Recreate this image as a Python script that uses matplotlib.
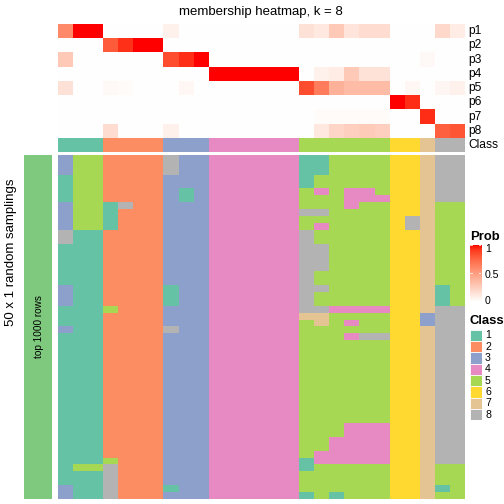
import numpy as np
import matplotlib
matplotlib.use("Agg")
import matplotlib.pyplot as plt
from matplotlib.colors import ListedColormap, LinearSegmentedColormap
from matplotlib.patches import Rectangle

plt.rcParams['font.family'] = ['Liberation Sans', 'DejaVu Sans']

class_ids = [1, 2, 3, 4, 5, 6, 7, 8]
class_colors = ["#66C2A5", "#FC8D62", "#8DA0CB", "#E78AC3",
                "#A6D854", "#FFD92F", "#E5C494", "#B3B3B3"]

# consensus class of each of the 27 columns
column_class = [1, 1, 1, 2, 2, 2, 2, 3, 3, 3, 4, 4, 4, 4, 4, 4,
                5, 5, 5, 5, 5, 5, 6, 6, 7, 8, 8]

# membership probabilities, one list per class
p1 = [0.60, 1, 1, 0, 0, 0, 0, 0.08, 0, 0, 0, 0, 0, 0, 0, 0,
      0.16, 0.12, 0.28, 0.14, 0.18, 0.18, 0, 0, 0, 0.20, 0.10]
p2 = [0, 0, 0, 0.80, 0.93, 1, 1, 0, 0, 0, 0, 0, 0, 0, 0, 0,
      0, 0, 0, 0, 0, 0, 0, 0, 0, 0, 0]
p3 = [0.28, 0, 0, 0, 0, 0, 0, 0.85, 0.94, 1, 0, 0, 0, 0, 0, 0,
      0, 0, 0, 0, 0, 0, 0, 0, 0.03, 0, 0]
p4 = [0, 0, 0, 0, 0, 0, 0, 0, 0, 0, 1, 1, 1, 1, 1, 1,
      0, 0.08, 0.10, 0.28, 0.15, 0.15, 0, 0, 0, 0, 0]
p5 = [0.16, 0, 0, 0.03, 0.02, 0, 0, 0, 0.04, 0, 0, 0, 0, 0, 0, 0,
      0.85, 0.66, 0.40, 0.35, 0.35, 0.35, 0, 0.04, 0, 0.05, 0.08]
p6 = [0, 0, 0, 0, 0, 0, 0, 0, 0, 0, 0, 0, 0, 0, 0, 0,
      0, 0, 0, 0, 0, 0, 1, 0.94, 0, 0, 0]
p7 = [0, 0, 0, 0, 0, 0, 0, 0, 0, 0, 0, 0, 0, 0, 0, 0,
      0, 0.02, 0.02, 0.02, 0.02, 0.02, 0, 0, 0.94, 0, 0]
p8 = [0, 0, 0, 0.18, 0, 0, 0, 0.08, 0, 0, 0, 0, 0, 0, 0, 0,
      0, 0.12, 0.22, 0.25, 0.27, 0.25, 0, 0, 0, 0.78, 0.82]
prob_labels = ["p1", "p2", "p3", "p4", "p5", "p6", "p7", "p8"]

# class found in each of the 50 random samplings (rows) for each column
samplings = [
    "355222283344444411555566788",
    "355222283344444411555566788",
    "355222283344444411555566788",
    "155222233344444415555566788",
    "155222233344444415555566788",
    "155222231344444454544566788",
    "155222231344444455544466788",
    "355182233344444455545566755",
    "355122233344444488555566755",
    "355122233344444455555568755",
    "355122233344444454555568755",
    "811222233344444485555566755",
    "811222233344444485555566755",
    "111222233344444488555566755",
    "111222233344444488555566755",
    "111222233344444488555566755",
    "111222233344444488555566755",
    "111222233344444485555566755",
    "111222233344444485555566755",
    "311222213344444488555566715",
    "311222213344444485555566715",
    "311222213344444485555566715",
    "111522233344444488444466788",
    "111222233344444477555566388",
    "111222233344444457545566388",
    "311222283344444455555566788",
    "111222233344444455548866788",
    "111222233344444455555566788",
    "111222233344444455555566788",
    "111222233344444455555566788",
    "111222233344444455555566788",
    "111222233344444455555566788",
    "111222233344444455555566788",
    "111222233344444455555566788",
    "111222233344444455555566788",
    "111222233344444455555566788",
    "111222233344444455555566788",
    "111222233344444455555566788",
    "111222233344444455555566788",
    "111222233344444455544466788",
    "111222233344444455544466788",
    "111222233344444455444466788",
    "111222233344444455444466788",
    "111222233344444454444466788",
    "111522233344444414444466788",
    "155822233344444415555566755",
    "111822233344444455555566755",
    "111822233344444455555566755",
    "311822213344444455555566715",
    "311822233344444415155566755",
]


def white_red_lab(n=128):
    # white -> red ramp interpolated in CIE Lab
    t = np.linspace(0, 1, n)
    L = 100 - (100 - 53.24) * t
    a = 80.09 * t
    b = 67.20 * t
    fy = (L + 16) / 116
    fx = fy + a / 500
    fz = fy - b / 200

    def finv(f):
        return np.where(f ** 3 > 0.008856, f ** 3, (f - 16 / 116) / 7.787)

    xyz = np.vstack([0.95047 * finv(fx), finv(fy), 1.08883 * finv(fz)])
    M = np.array([[3.2406, -1.5372, -0.4986],
                  [-0.9689, 1.8758, 0.0415],
                  [0.0557, -0.2040, 1.0570]])
    rgb = np.clip(M @ xyz, 0, 1)
    rgb = np.where(rgb > 0.0031308, 1.055 * rgb ** (1 / 2.4) - 0.055, 12.92 * rgb)
    return LinearSegmentedColormap.from_list("white_red", np.clip(rgb.T, 0, 1))


W = H = 504
fig = plt.figure(figsize=(7, 7), dpi=72)


def px_axes(x0, y0, x1, y1):
    ax = fig.add_axes([x0 / W, 1 - y1 / H, (x1 - x0) / W, (y1 - y0) / H])
    ax.set_axis_off()
    return ax


prob_cmap = white_red_lab()
class_cmap = ListedColormap(class_colors)

hx0, hx1 = 58, 465

# membership heatmap
prob = np.array([p1, p2, p3, p4, p5, p6, p7, p8])
ax = px_axes(hx0, 24, hx1, 138)
ax.imshow(prob, cmap=prob_cmap, vmin=0, vmax=1, aspect="auto", interpolation="nearest")

# class annotation
ax = px_axes(hx0, 138, hx1, 152.3)
ax.imshow(np.array([column_class]), cmap=class_cmap, vmin=0.5, vmax=8.5,
          aspect="auto", interpolation="nearest")

row_h = (138 - 24) / 8
for i, lab in enumerate(prob_labels + ["Class"]):
    fig.text(468 / W, 1 - (24 + row_h * (i + 0.5)) / H, lab, fontsize=12,
             ha="left", va="center")

# sampling heatmap
mat = np.array([[int(c) for c in row] for row in samplings])
ax = px_axes(hx0, 154.7, hx1, 499)
ax.imshow(mat, cmap=class_cmap, vmin=0.5, vmax=8.5, aspect="auto", interpolation="nearest")

# row title block
ax = px_axes(24, 154.7, 52, 499)
ax.add_patch(Rectangle((0, 0), 1, 1, color="#7FC97F"))
ax.set_xlim(0, 1)
ax.set_ylim(0, 1)
fig.text(38.5 / W, 1 - 327 / H, "top 1000 rows", fontsize=10, rotation=90,
         ha="center", va="center")
fig.text(11 / W, 1 - 252 / H, "50 x 1 random samplings", fontsize=13.2,
         rotation=90, ha="center", va="center")

fig.text(261 / W, 1 - 12 / H, "membership heatmap, k = 8", fontsize=13.2,
         ha="center", va="center")

# Prob legend
fig.text(470 / W, 1 - 237 / H, "Prob", fontsize=13, fontweight="bold",
         ha="left", va="center")
ax = px_axes(470, 245, 481.3, 301.7)
grad = np.linspace(1, 0, 100).reshape(-1, 1)
ax.imshow(grad, cmap=prob_cmap, vmin=0, vmax=1, aspect="auto",
          extent=(0, 1, 0, 1))
for v in [0, 0.5, 1]:
    ax.plot([0, 0.2], [v, v], color="white", lw=0.8)
    ax.plot([0.8, 1], [v, v], color="white", lw=0.8)
ax.set_xlim(0, 1)
ax.set_ylim(0, 1)
for v, y in [("1", 248.5), ("0.5", 274.5), ("0", 301.5)]:
    fig.text(485 / W, 1 - y / H, v, fontsize=10.5, ha="left", va="center")

# Class legend
fig.text(470 / W, 1 - 321 / H, "Class", fontsize=13, fontweight="bold",
         ha="left", va="center")
grid = 11.34
ax = px_axes(470, 329.5, 482, 329.5 + grid * 8)
ax.set_xlim(0, 1)
ax.set_ylim(8, 0)
for i, (cid, col) in enumerate(zip(class_ids, class_colors)):
    ax.add_patch(Rectangle((0, i), 1, 1, facecolor=col, edgecolor="white", lw=0.8))
    fig.text(485 / W, 1 - (329.5 + grid * (i + 0.5)) / H, str(cid), fontsize=10.5,
             ha="left", va="center")

fig.savefig("out.png", dpi=72)
